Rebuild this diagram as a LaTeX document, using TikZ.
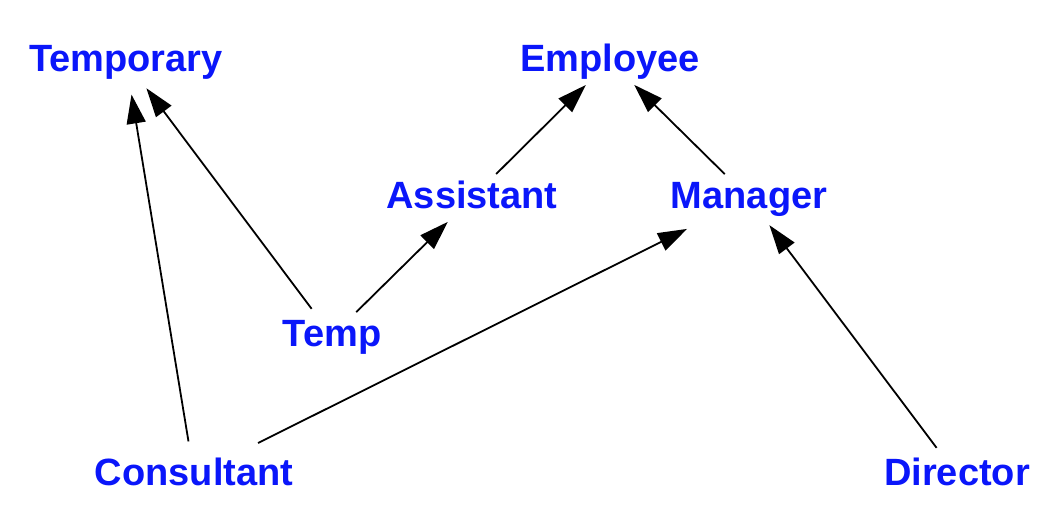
\documentclass[tikz,border=0pt]{standalone}
\usepackage{fontspec}
\setmainfont{Liberation Sans}
\usetikzlibrary{arrows.meta}
\definecolor{classblue}{RGB}{10,22,250}

\begin{document}
\begin{tikzpicture}[x=0.5pt,y=-0.5pt,
    cls/.style={text=classblue,font=\fontsize{19}{22}\selectfont\bfseries,inner sep=0pt,text height=14pt,text depth=4pt},
    isa/.style={-{Triangle[length=14.5pt,width=9.5pt]},line width=0.9pt,shorten <=17pt,shorten >=17pt}]
    \useasboundingbox (0,0) rectangle (1058,530);

    \node[cls] (temporary) at (126,61) {Temporary};
    \node[cls] (employee) at (610,61) {Employee};
    \node[cls] (assistant) at (472,198) {Assistant};
    \node[cls] (manager) at (749,198) {Manager};
    \node[cls] (temp) at (332,336) {Temp};
    \node[cls] (consultant) at (194,475) {Consultant};
    \node[cls] (director) at (957,475) {Director};

    \draw[isa] (consultant.center) -- (temporary.center);
    \draw[isa] (temp.center) -- (temporary.center);
    \draw[isa] (temp.center) -- (assistant.center);
    \draw[isa] (assistant.center) -- (employee.center);
    \draw[isa] (manager.center) -- (employee.center);
    \draw[isa,shorten <=35.8pt,shorten >=34.6pt] (consultant.center) -- (manager.center);
    \draw[isa] (director.center) -- (manager.center);
\end{tikzpicture}
\end{document}
